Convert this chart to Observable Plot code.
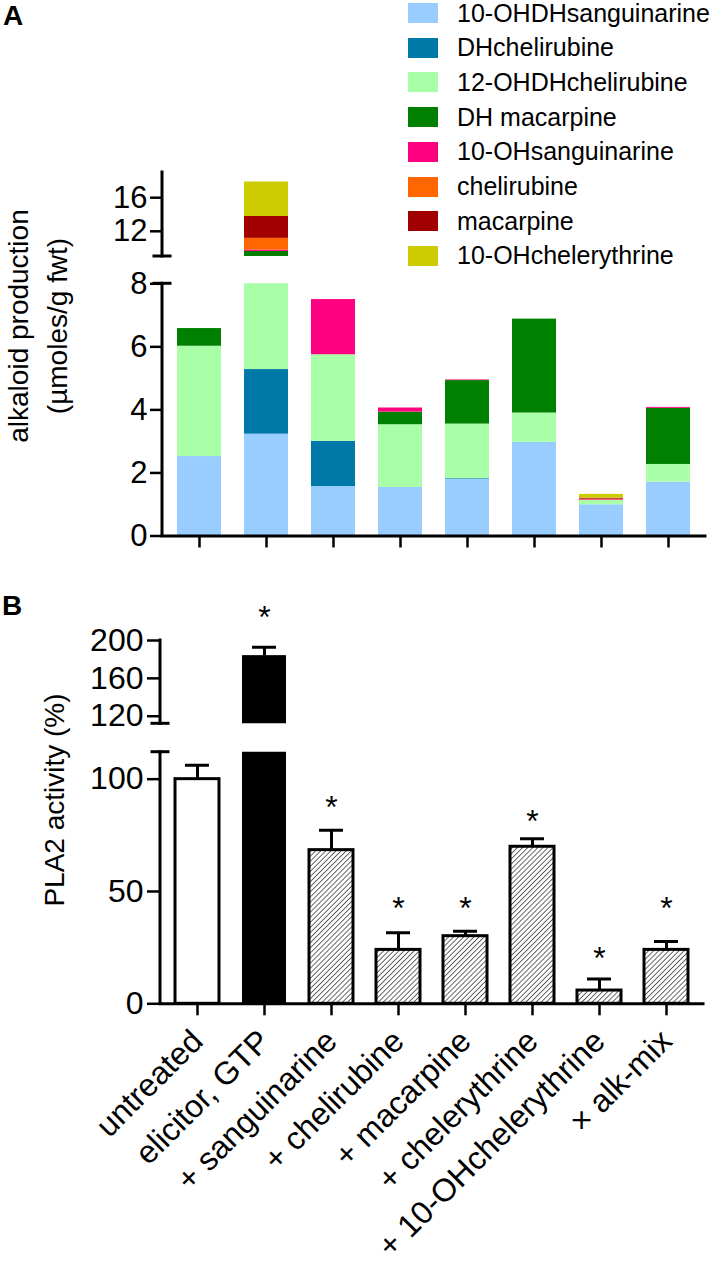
<!DOCTYPE html>
<html><head><meta charset="utf-8">
<script src="https://cdn.jsdelivr.net/npm/d3@7"></script>
<script src="https://cdn.jsdelivr.net/npm/@observablehq/plot@0.6"></script>
<style>
html,body{margin:0;padding:0;background:#fff;}
#root{position:relative;width:717px;height:1276px;overflow:hidden;font-family:"Liberation Sans",Arial,sans-serif;color:#000;}
#root svg{position:absolute;left:0;top:0;}
.leg{position:absolute;display:flex;align-items:center;font-size:25px;white-space:nowrap;}
.sw{width:30px;height:20px;margin-right:19px;box-sizing:border-box;}
</style></head><body>
<svg width="0" height="0" style="position:absolute">
  <defs>
    <pattern id="hatch" patternUnits="userSpaceOnUse" width="3.6" height="3.6" patternTransform="rotate(45)">
      <rect width="3.6" height="3.6" fill="white"/>
      <line x1="0" y1="0" x2="0" y2="3.6" stroke="black" stroke-width="1.2"/>
    </pattern>
  </defs>
</svg>
<div id="root"></div>
<script>
// ---------- data ----------
const categories = ["untreated", "elicitor, GTP", "+ sanguinarine", "+ chelirubine", "+ macarpine", "+ chelerythrine", "+ 10-OHchelerythrine", "× alk-mix"];

const alkaloids = ["10-OHDHsanguinarine", "DHchelirubine", "12-OHDHchelirubine", "DH macarpine", "10-OHsanguinarine", "chelirubine", "macarpine", "10-OHchelerythrine"];

// panel A: µmoles/g fwt per treatment
const ohdhSanguinarine = [2.52, 3.23, 1.57, 1.54, 1.80, 2.97, 0.99, 1.71];
const dhChelirubine    = [0.00, 2.05, 1.43, 0.00, 0.02, 0.00, 0.00, 0.00];
const ohdhChelirubine  = [3.50, 3.70, 2.75, 1.99, 1.73, 0.93, 0.14, 0.56];
const dhMacarpine      = [0.56, 0.62, 0.00, 0.40, 1.38, 2.98, 0.00, 1.78];
const ohSanguinarine   = [0.00, 0.17, 1.75, 0.13, 0.02, 0.00, 0.02, 0.03];
const chelirubine      = [0.00, 1.39, 0.00, 0.00, 0.00, 0.00, 0.02, 0.00];
const macarpine        = [0.00, 2.60, 0.00, 0.00, 0.00, 0.00, 0.03, 0.00];
const ohChelerythrine  = [0.00, 4.11, 0.00, 0.00, 0.00, 0.00, 0.12, 0.00];

const ticksAupper = [12, 16];
const ticksAlower = [0, 2, 4, 6, 8];

// panel B: PLA2 activity (%)
const pla2Mean = [100, 184, 68.4, 24.0, 30.1, 69.9, 5.9, 24.0];
const pla2Sem  = [6.2, 9.0, 8.9, 7.6, 2.2, 3.6, 5.1, 3.7];
const treatmentKind = ["control", "elicitor", "alkaloid", "alkaloid", "alkaloid", "alkaloid", "alkaloid", "alkaloid"];
const starLevel = [null, 232, 91, 46, 46, 84.4, 23.7, 46];

const ticksBupper = [120, 160, 200];
const ticksBlower = [0, 50, 100];

// ---------- styling ----------
const palette = ["#99ccff", "#0078a8", "#a8ffa8", "#008000", "#ff0080", "#ff6600", "#a00000", "#cccc00"];
const W = 717, H = 1276;
const FONT = "Liberation Sans, Arial, sans-serif";
const root = document.getElementById("root");

const series = [ohdhSanguinarine, dhChelirubine, ohdhChelirubine, dhMacarpine, ohSanguinarine, chelirubine, macarpine, ohChelerythrine];
const stackData = alkaloids.flatMap((alk, i) => categories.map((cat, j) => ({cat, alk, value: series[i][j]})));
const dataB = categories.map((cat, i) => ({cat, mean: pla2Mean[i], sem: pla2Sem[i], kind: treatmentKind[i], star: starLevel[i]}));

// y-axis line with optional break caps, derived from the plot frame
function yAxisLine(capTop, capBottom) {
  return (index, scales, values, dim) => {
    const x = dim.marginLeft;
    const y0 = dim.marginTop, y1 = dim.height - dim.marginBottom;
    const g = d3.create("svg:g").attr("stroke", "black").attr("stroke-width", 3).attr("stroke-linecap", "square");
    g.append("line").attr("x1", x).attr("x2", x).attr("y1", y0).attr("y2", y1);
    if (capTop) g.append("line").attr("x1", x - 8).attr("x2", x + 8).attr("y1", y0).attr("y2", y0);
    if (capBottom) g.append("line").attr("x1", x - 8).attr("x2", x + 8).attr("y1", y1).attr("y2", y1);
    return g.node();
  };
}

const xScale = {domain: categories, paddingInner: 0.337, paddingOuter: 0.1685, axis: null, label: null};

function panelA(domain, top, bottom, ticks, lower) {
  return Plot.plot({
    width: W, height: H,
    marginLeft: 162, marginRight: 12, marginTop: top, marginBottom: H - bottom,
    style: {background: "transparent", fontFamily: FONT, fontSize: "31px", color: "black", overflow: "visible"},
    x: xScale,
    y: {domain, axis: null, label: null},
    color: {domain: alkaloids, range: palette},
    marks: [
      Plot.barY(stackData, {x: "cat", y: "value", fill: "alk", clip: true}),
      Plot.axisY({ticks, tickSize: 12, tickPadding: 3, fontSize: 31, strokeWidth: 2.5, label: null}),
      yAxisLine(lower, !lower),
      lower ? Plot.ruleY([0], {strokeWidth: 3, strokeLinecap: "square"}) : null,
      lower ? Plot.axisX({tickSize: 12, tickFormat: () => "", strokeWidth: 2.5, label: null}) : null
    ]
  });
}

function panelB(domain, top, bottom, ticks, lower) {
  const errTop = d => d.mean + d.sem;
  const starFilter = lower ? (d => d.star != null && d.star <= domain[1]) : (d => d.star != null && d.star > domain[0]);
  return Plot.plot({
    width: W, height: H,
    marginLeft: 160, marginRight: 14, marginTop: top, marginBottom: H - bottom,
    style: {background: "transparent", fontFamily: FONT, fontSize: "32px", color: "black", overflow: "visible"},
    x: xScale,
    y: {domain, axis: null, label: null},
    marks: [
      Plot.barY(dataB, {filter: d => d.kind === "control", x: "cat", y: "mean", fill: "white", stroke: "black", strokeWidth: 3, clip: true}),
      Plot.barY(dataB, {filter: d => d.kind === "elicitor", x: "cat", y: "mean", fill: "black", clip: true}),
      Plot.barY(dataB, {filter: d => d.kind === "alkaloid", x: "cat", y: "mean", fill: "url(#hatch)", stroke: "black", strokeWidth: 3, clip: true}),
      Plot.ruleX(dataB, {x: "cat", y1: "mean", y2: errTop, strokeWidth: 3, clip: true}),
      Plot.tickY(dataB, {x: "cat", y: errTop, strokeWidth: 3, inset: 10, clip: true}),
      Plot.text(dataB, {filter: starFilter, x: "cat", y: "star", text: () => "*", fontSize: 32, dy: 8}),
      Plot.axisY({ticks, tickSize: 13, tickPadding: 4, fontSize: 32, strokeWidth: 2.5, label: null}),
      yAxisLine(lower, !lower),
      lower ? Plot.ruleY([0], {strokeWidth: 3, strokeLinecap: "square"}) : null,
      lower ? Plot.axisX({tickSize: 12, tickPadding: 20, tickRotate: -45, fontSize: 32, strokeWidth: 2.5, label: null}) : null
    ]
  });
}

root.append(panelA([9, 19], 172, 256, ticksAupper, false));
root.append(panelA([0, 8], 283.3, 535.5, ticksAlower, true));
root.append(panelB([112, 200], 640, 723.3, ticksBupper, false));
root.append(panelB([0, 112], 751.7, 1003.3, ticksBlower, true));

// titles & axis labels
const ov = d3.create("svg").attr("width", W).attr("height", H).style("font-family", FONT).style("overflow", "visible");
ov.append("text").attr("x", 3).attr("y", 25).attr("font-size", 28).attr("font-weight", "bold").text("A");
ov.append("text").attr("x", 2).attr("y", 615).attr("font-size", 28).attr("font-weight", "bold").text("B");
ov.append("text").attr("transform", "translate(28,326) rotate(-90)").attr("text-anchor", "middle").attr("font-size", 28).text("alkaloid production");
ov.append("text").attr("transform", "translate(67,326) rotate(-90)").attr("text-anchor", "middle").attr("font-size", 28).text("(µmoles/g fwt)");
ov.append("text").attr("transform", "translate(64,800) rotate(-90)").attr("text-anchor", "middle").attr("font-size", 28).text("PLA2 activity (%)");
root.append(ov.node());

// legend
alkaloids.forEach((name, i) => {
  const row = document.createElement("div");
  row.className = "leg";
  row.style.left = "408px";
  row.style.top = (13 + i * 34.7 - 15) + "px";
  row.style.height = "30px";
  const sw = document.createElement("div");
  sw.className = "sw";
  sw.style.background = palette[i];
  row.append(sw);
  const t = document.createElement("span");
  t.textContent = name;
  row.append(t);
  root.append(row);
});
</script>
</body></html>
